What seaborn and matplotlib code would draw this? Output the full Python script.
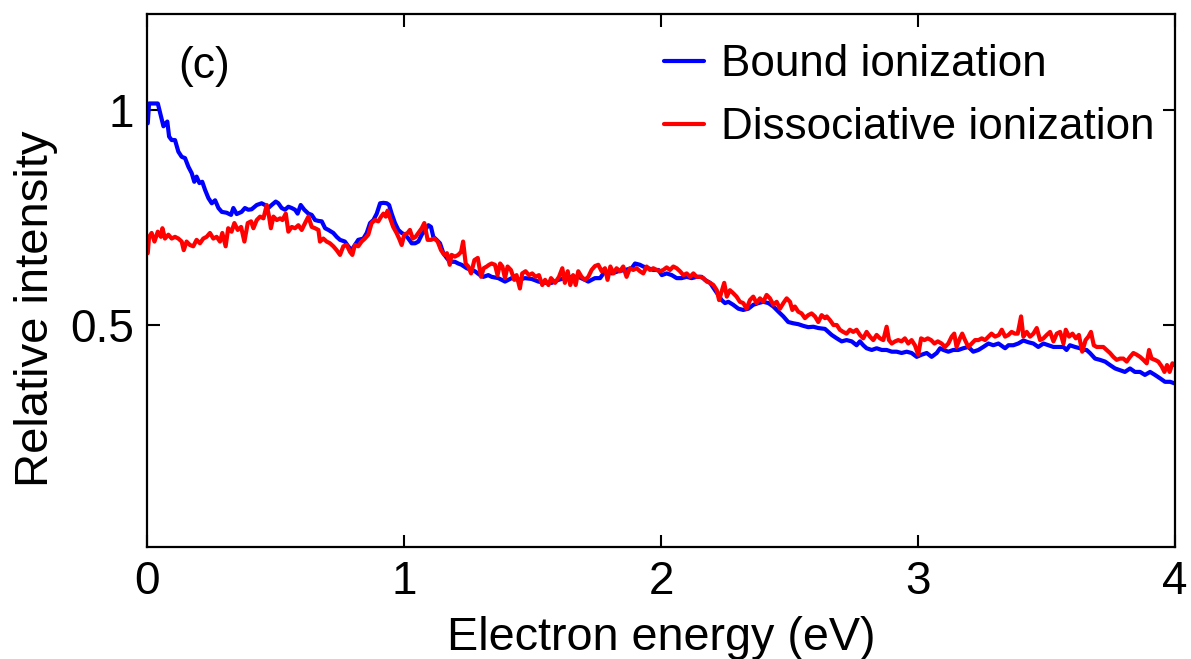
import numpy as np
import pandas as pd
import matplotlib
matplotlib.use("Agg")
import matplotlib.pyplot as plt
import seaborn as sns

# ── Data ─────────────────────────────────────────────────────────────────────
bound_energy = [
    0.003, 0.008, 0.025, 0.042, 0.051, 0.064, 0.073, 0.079, 0.086, 0.096, 0.109, 0.122, 0.135, 0.148,
    0.161, 0.174, 0.184, 0.193, 0.204, 0.215, 0.226, 0.239, 0.252, 0.265, 0.278, 0.291, 0.310, 0.327,
    0.336, 0.349, 0.368, 0.381, 0.394, 0.407, 0.427, 0.446, 0.459, 0.472, 0.485, 0.501, 0.511, 0.524,
    0.537, 0.550, 0.563, 0.576, 0.586, 0.598, 0.612, 0.628, 0.641, 0.654, 0.667, 0.680, 0.693, 0.706,
    0.725, 0.738, 0.751, 0.770, 0.783, 0.796, 0.809, 0.822, 0.842, 0.855, 0.868, 0.881, 0.894, 0.907,
    0.920, 0.933, 0.942, 0.952, 0.965, 0.978, 0.991, 1.004, 1.017, 1.030, 1.043, 1.056, 1.069, 1.082,
    1.095, 1.105, 1.114, 1.127, 1.140, 1.153, 1.166, 1.179, 1.198, 1.211, 1.224, 1.244, 1.263, 1.276,
    1.296, 1.309, 1.328, 1.341, 1.367, 1.393, 1.419, 1.445, 1.471, 1.497, 1.523, 1.549, 1.575, 1.601,
    1.626, 1.652, 1.678, 1.704, 1.717, 1.743, 1.763, 1.782, 1.808, 1.834, 1.860, 1.886, 1.899, 1.918,
    1.931, 1.951, 1.970, 1.990, 2.003, 2.022, 2.042, 2.061, 2.080, 2.100, 2.119, 2.139, 2.158, 2.171,
    2.191, 2.210, 2.223, 2.236, 2.249, 2.262, 2.281, 2.301, 2.320, 2.340, 2.359, 2.379, 2.398, 2.418,
    2.437, 2.457, 2.476, 2.495, 2.515, 2.534, 2.554, 2.573, 2.593, 2.612, 2.638, 2.664, 2.684, 2.703,
    2.722, 2.742, 2.761, 2.774, 2.787, 2.800, 2.820, 2.839, 2.859, 2.878, 2.898, 2.917, 2.936, 2.956,
    2.975, 2.995, 3.014, 3.034, 3.053, 3.073, 3.086, 3.099, 3.118, 3.137, 3.157, 3.176, 3.196, 3.215,
    3.235, 3.254, 3.274, 3.293, 3.313, 3.339, 3.352, 3.371, 3.390, 3.410, 3.429, 3.449, 3.468, 3.488,
    3.507, 3.527, 3.546, 3.566, 3.578, 3.591, 3.611, 3.630, 3.643, 3.656, 3.669, 3.689, 3.708, 3.728,
    3.747, 3.767, 3.786, 3.805, 3.825, 3.844, 3.864, 3.883, 3.903, 3.922, 3.942, 3.961, 3.981, 4.000,
]
bound_intensity = [
    0.969, 1.015, 1.015, 1.015, 0.993, 0.962, 0.969, 0.973, 0.938, 0.930, 0.930, 0.903, 0.891, 0.888,
    0.868, 0.853, 0.833, 0.845, 0.830, 0.833, 0.814, 0.795, 0.783, 0.790, 0.772, 0.763, 0.761, 0.756,
    0.772, 0.758, 0.763, 0.772, 0.768, 0.769, 0.779, 0.783, 0.779, 0.772, 0.779, 0.787, 0.783, 0.772,
    0.768, 0.775, 0.772, 0.768, 0.759, 0.779, 0.768, 0.759, 0.756, 0.744, 0.742, 0.741, 0.725, 0.721,
    0.714, 0.705, 0.698, 0.694, 0.683, 0.674, 0.686, 0.698, 0.701, 0.714, 0.737, 0.744, 0.759, 0.783,
    0.784, 0.783, 0.779, 0.759, 0.737, 0.721, 0.714, 0.710, 0.701, 0.690, 0.690, 0.694, 0.710, 0.721,
    0.732, 0.728, 0.705, 0.698, 0.690, 0.667, 0.656, 0.647, 0.647, 0.643, 0.640, 0.632, 0.628, 0.625,
    0.616, 0.612, 0.616, 0.612, 0.609, 0.601, 0.609, 0.605, 0.609, 0.607, 0.601, 0.598, 0.598, 0.605,
    0.609, 0.612, 0.612, 0.605, 0.601, 0.609, 0.609, 0.625, 0.620, 0.625, 0.628, 0.632, 0.643, 0.640,
    0.636, 0.632, 0.628, 0.628, 0.616, 0.620, 0.616, 0.609, 0.609, 0.612, 0.609, 0.612, 0.612, 0.605,
    0.598, 0.581, 0.570, 0.558, 0.551, 0.554, 0.547, 0.538, 0.535, 0.538, 0.547, 0.551, 0.554, 0.551,
    0.543, 0.531, 0.520, 0.507, 0.504, 0.502, 0.498, 0.495, 0.496, 0.493, 0.491, 0.477, 0.469, 0.462,
    0.465, 0.462, 0.453, 0.462, 0.453, 0.446, 0.442, 0.446, 0.442, 0.442, 0.438, 0.438, 0.435, 0.438,
    0.435, 0.426, 0.431, 0.435, 0.426, 0.435, 0.446, 0.442, 0.438, 0.442, 0.442, 0.446, 0.449, 0.438,
    0.442, 0.449, 0.457, 0.453, 0.457, 0.446, 0.453, 0.453, 0.457, 0.464, 0.460, 0.457, 0.449, 0.457,
    0.453, 0.449, 0.449, 0.449, 0.442, 0.453, 0.449, 0.446, 0.442, 0.442, 0.435, 0.422, 0.419, 0.415,
    0.407, 0.399, 0.395, 0.391, 0.399, 0.391, 0.391, 0.384, 0.391, 0.384, 0.376, 0.368, 0.368, 0.364,
]

diss_energy = [
    0.003, 0.008, 0.018, 0.029, 0.042, 0.054, 0.060, 0.070, 0.083, 0.096, 0.109, 0.122, 0.135, 0.143,
    0.154, 0.167, 0.180, 0.193, 0.206, 0.219, 0.232, 0.245, 0.258, 0.271, 0.284, 0.293, 0.306, 0.316,
    0.329, 0.340, 0.353, 0.366, 0.379, 0.392, 0.405, 0.414, 0.427, 0.440, 0.453, 0.466, 0.475, 0.482,
    0.492, 0.505, 0.518, 0.527, 0.540, 0.550, 0.563, 0.576, 0.589, 0.602, 0.615, 0.628, 0.641, 0.654,
    0.667, 0.673, 0.686, 0.699, 0.712, 0.725, 0.738, 0.751, 0.764, 0.777, 0.790, 0.799, 0.809, 0.822,
    0.835, 0.848, 0.861, 0.874, 0.887, 0.900, 0.911, 0.920, 0.929, 0.936, 0.946, 0.958, 0.971, 0.981,
    0.991, 1.001, 1.014, 1.023, 1.034, 1.045, 1.056, 1.069, 1.079, 1.092, 1.105, 1.118, 1.131, 1.144,
    1.157, 1.167, 1.178, 1.185, 1.198, 1.211, 1.222, 1.230, 1.240, 1.250, 1.261, 1.274, 1.287, 1.300,
    1.310, 1.322, 1.331, 1.341, 1.354, 1.364, 1.374, 1.383, 1.393, 1.403, 1.416, 1.429, 1.438, 1.451,
    1.460, 1.473, 1.486, 1.499, 1.512, 1.525, 1.538, 1.549, 1.562, 1.572, 1.588, 1.603, 1.616, 1.626,
    1.637, 1.647, 1.658, 1.668, 1.678, 1.691, 1.704, 1.717, 1.730, 1.743, 1.756, 1.769, 1.782, 1.792,
    1.803, 1.815, 1.827, 1.840, 1.853, 1.866, 1.879, 1.892, 1.905, 1.918, 1.931, 1.944, 1.957, 1.970,
    1.983, 1.996, 2.009, 2.022, 2.035, 2.048, 2.061, 2.074, 2.087, 2.100, 2.113, 2.126, 2.139, 2.152,
    2.165, 2.178, 2.191, 2.204, 2.217, 2.226, 2.236, 2.246, 2.256, 2.268, 2.281, 2.294, 2.307, 2.320,
    2.333, 2.346, 2.359, 2.372, 2.385, 2.398, 2.411, 2.424, 2.437, 2.450, 2.463, 2.476, 2.489, 2.502,
    2.511, 2.521, 2.534, 2.547, 2.560, 2.573, 2.586, 2.599, 2.612, 2.625, 2.638, 2.645, 2.658, 2.671,
    2.684, 2.696, 2.709, 2.722, 2.735, 2.748, 2.761, 2.774, 2.787, 2.800, 2.813, 2.826, 2.839, 2.852,
    2.865, 2.878, 2.887, 2.898, 2.911, 2.923, 2.936, 2.949, 2.962, 2.975, 2.988, 3.001, 3.012, 3.025,
    3.038, 3.051, 3.064, 3.077, 3.092, 3.105, 3.118, 3.131, 3.141, 3.150, 3.163, 3.172, 3.183, 3.196,
    3.209, 3.222, 3.235, 3.248, 3.261, 3.274, 3.286, 3.300, 3.315, 3.326, 3.339, 3.352, 3.364, 3.377,
    3.388, 3.401, 3.410, 3.423, 3.436, 3.449, 3.462, 3.475, 3.488, 3.501, 3.514, 3.527, 3.540, 3.553,
    3.566, 3.575, 3.588, 3.601, 3.614, 3.626, 3.639, 3.652, 3.663, 3.673, 3.684, 3.695, 3.708, 3.721,
    3.734, 3.747, 3.760, 3.773, 3.786, 3.799, 3.812, 3.825, 3.838, 3.851, 3.864, 3.877, 3.890, 3.899,
    3.909, 3.922, 3.935, 3.948, 3.959, 3.969, 3.979, 3.990, 4.000,
]
diss_intensity = [
    0.667, 0.705, 0.714, 0.694, 0.717, 0.705, 0.725, 0.701, 0.710, 0.701, 0.705, 0.701, 0.694, 0.674,
    0.694, 0.686, 0.683, 0.698, 0.690, 0.701, 0.705, 0.714, 0.701, 0.705, 0.694, 0.714, 0.683, 0.725,
    0.717, 0.737, 0.721, 0.728, 0.694, 0.737, 0.741, 0.725, 0.744, 0.752, 0.748, 0.779, 0.752, 0.725,
    0.752, 0.744, 0.748, 0.744, 0.759, 0.717, 0.728, 0.725, 0.732, 0.721, 0.737, 0.752, 0.728, 0.725,
    0.721, 0.694, 0.701, 0.694, 0.690, 0.683, 0.674, 0.663, 0.683, 0.686, 0.670, 0.663, 0.686, 0.683,
    0.694, 0.701, 0.710, 0.737, 0.744, 0.741, 0.752, 0.759, 0.752, 0.766, 0.748, 0.728, 0.714, 0.701,
    0.686, 0.710, 0.714, 0.721, 0.701, 0.705, 0.714, 0.725, 0.737, 0.698, 0.698, 0.701, 0.694, 0.674,
    0.663, 0.667, 0.640, 0.663, 0.659, 0.663, 0.670, 0.694, 0.643, 0.636, 0.620, 0.651, 0.656, 0.612,
    0.632, 0.636, 0.640, 0.643, 0.640, 0.616, 0.643, 0.636, 0.609, 0.636, 0.628, 0.605, 0.616, 0.585,
    0.620, 0.625, 0.616, 0.620, 0.612, 0.616, 0.593, 0.605, 0.593, 0.609, 0.598, 0.612, 0.632, 0.598,
    0.625, 0.593, 0.616, 0.593, 0.625, 0.612, 0.605, 0.612, 0.628, 0.637, 0.640, 0.625, 0.632, 0.605,
    0.636, 0.620, 0.632, 0.625, 0.636, 0.612, 0.632, 0.628, 0.632, 0.625, 0.620, 0.636, 0.628, 0.632,
    0.628, 0.625, 0.628, 0.634, 0.628, 0.636, 0.632, 0.625, 0.616, 0.620, 0.612, 0.620, 0.612, 0.612,
    0.609, 0.601, 0.598, 0.593, 0.581, 0.558, 0.578, 0.598, 0.566, 0.581, 0.574, 0.566, 0.554, 0.551,
    0.538, 0.558, 0.566, 0.551, 0.562, 0.554, 0.570, 0.562, 0.547, 0.554, 0.538, 0.551, 0.562, 0.554,
    0.535, 0.543, 0.531, 0.527, 0.516, 0.523, 0.527, 0.520, 0.507, 0.523, 0.516, 0.520, 0.511, 0.500,
    0.500, 0.489, 0.484, 0.480, 0.489, 0.484, 0.489, 0.477, 0.469, 0.484, 0.473, 0.465, 0.477, 0.469,
    0.465, 0.496, 0.465, 0.457, 0.462, 0.465, 0.462, 0.469, 0.457, 0.465, 0.453, 0.431, 0.469, 0.465,
    0.469, 0.465, 0.457, 0.462, 0.457, 0.449, 0.457, 0.473, 0.480, 0.449, 0.469, 0.480, 0.465, 0.449,
    0.457, 0.465, 0.465, 0.469, 0.465, 0.473, 0.480, 0.473, 0.477, 0.489, 0.473, 0.477, 0.484, 0.480,
    0.480, 0.520, 0.473, 0.484, 0.473, 0.480, 0.493, 0.465, 0.469, 0.477, 0.484, 0.462, 0.480, 0.484,
    0.457, 0.489, 0.473, 0.480, 0.469, 0.477, 0.438, 0.465, 0.473, 0.484, 0.453, 0.449, 0.449, 0.449,
    0.442, 0.435, 0.426, 0.419, 0.422, 0.422, 0.415, 0.426, 0.435, 0.431, 0.426, 0.419, 0.411, 0.442,
    0.422, 0.419, 0.415, 0.404, 0.391, 0.407, 0.391, 0.411, 0.407,
]

series_names = ["Bound ionization", "Dissociative ionization"]
series_colors = ["#0000FF", "#FF0000"]
x_ticks = [0, 1, 2, 3, 4]
y_ticks = [0.5, 1]

df = pd.concat([
    pd.DataFrame({"energy": bound_energy, "intensity": bound_intensity, "series": series_names[0]}),
    pd.DataFrame({"energy": diss_energy, "intensity": diss_intensity, "series": series_names[1]}),
], ignore_index=True)

# ── Style ────────────────────────────────────────────────────────────────────
sns.set_theme(style="ticks")
plt.rcParams["font.family"] = ["Liberation Sans", "DejaVu Sans"]
plt.rcParams.update({"text.color": "black", "axes.labelcolor": "black",
                     "xtick.color": "black", "ytick.color": "black"})

fig = plt.figure(figsize=(11.91, 6.59), dpi=100)
ax = fig.add_axes([147 / 1191, 1 - 547 / 659, 1028 / 1191, 533 / 659])

sns.lineplot(data=df, x="energy", y="intensity", hue="series", hue_order=series_names,
             palette=series_colors, sort=False, estimator=None, linewidth=3.0, ax=ax)

ax.set_xlim(0, 4)
ax.set_ylim(-0.016, 1.223)
ax.set_xticks(x_ticks)
ax.set_xticklabels([str(t) for t in x_ticks])
ax.set_yticks(y_ticks)
ax.set_yticklabels(["0.5", "1"])
ax.tick_params(direction="in", length=9, width=1.5, labelsize=33, pad=9,
               top=True, right=True, colors="black")
for s in ax.spines.values():
    s.set_linewidth(1.6)
    s.set_color("black")

ax.set_xlabel("Electron energy (eV)", fontsize=33.7, labelpad=9)
ax.set_ylabel("Relative intensity", fontsize=34)
ax.yaxis.set_label_coords(-0.087, 0.4465)

ax.text(0.056, 0.902, "(c)", transform=ax.transAxes, fontsize=32, ha="center", va="center")

leg = ax.legend(loc="upper right", bbox_to_anchor=(0.989, 0.96), frameon=False,
                fontsize=31.7, handlelength=0.9, handletextpad=0.4, labelspacing=0.5,
                borderaxespad=0.0, borderpad=0.2)
for h in leg.get_lines():
    h.set_linewidth(3.0)

fig.savefig("out.png", dpi=100, facecolor="white")
plt.close(fig)
